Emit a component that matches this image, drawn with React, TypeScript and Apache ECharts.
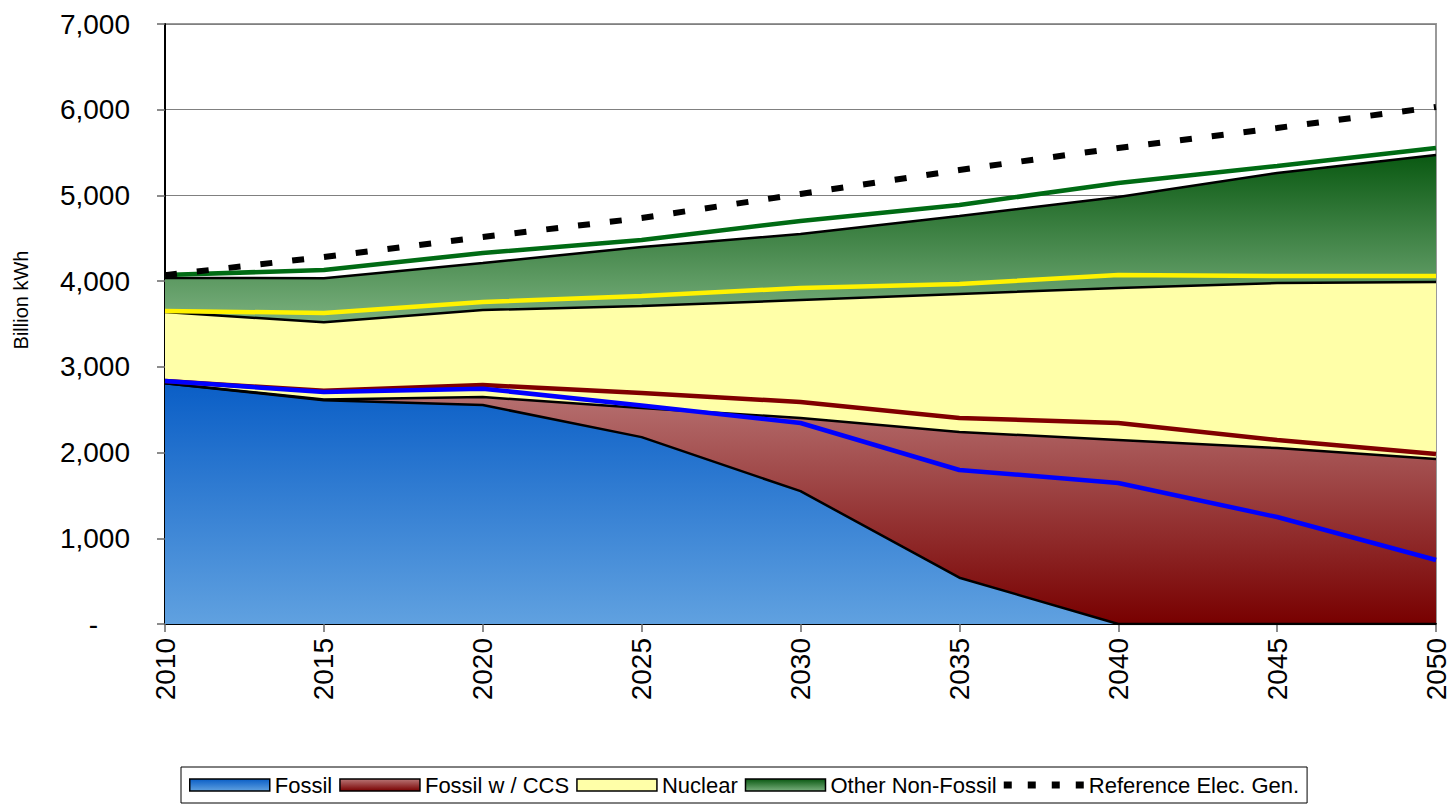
import React, { useEffect, useRef } from "react";
import * as echarts from "echarts";

const years = ["2010", "2015", "2020", "2025", "2030", "2035", "2040", "2045", "2050"];
// stacked generation (Billion kWh)
const fossil = [2810, 2610, 2555, 2180, 1550, 540, 0, 0, 0];
const fossilCCS = [0, 10, 93, 340, 853, 1700, 2147, 2053, 1925];
const nuclear = [830, 900, 1015, 1190, 1377, 1610, 1773, 1925, 2065];
const otherNonFossil = [397, 514, 549, 688, 770, 910, 1062, 1284, 1482];
// cumulative comparison lines
const lineFossil = [2835, 2707, 2745, 2550, 2345, 1797, 1645, 1248, 747];
const lineFossilCCS = [2835, 2720, 2788, 2695, 2590, 2403, 2345, 2147, 1983];
const lineNuclear = [3652, 3628, 3757, 3827, 3920, 3967, 4072, 4060, 4060];
const lineOther = [4072, 4130, 4329, 4480, 4702, 4889, 5145, 5343, 5553];
const referenceGen = [4070, 4282, 4515, 4737, 5017, 5297, 5554, 5787, 6032];

const yTicks = [0, 1000, 2000, 3000, 4000, 5000, 6000, 7000];
const yAxisTitle = "Billion kWh";

const grad = (top: string, bottom: string) =>
  new echarts.graphic.LinearGradient(0, 0, 0, 1, [
    { offset: 0, color: top },
    { offset: 1, color: bottom },
  ]);

export default function App() {
  const ref = useRef<HTMLDivElement>(null);
  useEffect(() => {
    document.body.style.margin = "0";
    const chart = echarts.init(ref.current!, null, { renderer: "svg" });
    const fossilFill = grad("#0A5EC6", "#60A1E0");
    const ccsFill = grad("#B97676", "#780000");
    const nucFill = "#FFFFA8";
    const otherFill = grad("#0A5912", "#7AB07E");
    const font = "Liberation Sans, Arial, sans-serif";

    const area = (name: string, data: number[], fill: any) => ({
      name,
      type: "line",
      stack: "total",
      data,
      symbol: "none",
      itemStyle: { color: fill },
      lineStyle: { width: 0, color: "#000" },
      areaStyle: { color: fill, opacity: 1 },
      z: 2,
    });
    const border = (data: number[]) => ({
      name: "_b",
      type: "line",
      stack: "border",
      data,
      symbol: "none",
      lineStyle: { width: 2.5, color: "#000" },
      z: 3,
      silent: true,
    });
    const line = (name: string, data: number[], color: string, z: number) => ({
      name,
      type: "line",
      data,
      symbol: "none",
      lineStyle: { width: 4.5, color },
      itemStyle: { color },
      z,
    });

    chart.setOption({
      animation: false,
      grid: {
        left: 165,
        right: 13,
        top: 24,
        bottom: 184,
        show: true,
        borderColor: "#999",
        borderWidth: 2,
        backgroundColor: "transparent",
      },
      graphic: [
        {
          type: "text",
          x: 21,
          y: 300,
          rotation: Math.PI / 2,
          style: {
            text: yAxisTitle,
            fontSize: 20,
            fontFamily: font,
            fill: "#000",
            textAlign: "center",
            textVerticalAlign: "middle",
          },
        },
      ],
      legend: {
        left: 181,
        top: 767,
        width: 1140,
        padding: [7, 8, 7, 8],
        itemWidth: 80,
        itemHeight: 12,
        itemGap: 7,
        borderColor: "#000",
        borderWidth: 1,
        textStyle: { fontSize: 22, color: "#000", fontFamily: font },
        data: [
          { name: "Fossil", icon: "rect", itemStyle: { color: fossilFill, borderColor: "#000", borderWidth: 1.5 } },
          { name: "Fossil w / CCS", icon: "rect", itemStyle: { color: ccsFill, borderColor: "#000", borderWidth: 1.5 } },
          { name: "Nuclear", icon: "rect", itemStyle: { color: nucFill, borderColor: "#000", borderWidth: 1.5 } },
          { name: "Other Non-Fossil", icon: "rect", itemStyle: { color: otherFill, borderColor: "#000", borderWidth: 1.5 } },
          {
            name: "Reference Elec. Gen.",
            icon: "path://M0,0h8v7h-8z M24,0h8v7h-8z M48,0h8v7h-8z M72,0h8v7h-8z",
            itemStyle: { color: "#000", borderWidth: 0 },
          },
        ],
      },
      xAxis: {
        type: "category",
        data: years,
        boundaryGap: false,
        axisLine: { lineStyle: { color: "#000", width: 2 } },
        axisTick: { show: true, length: 8, lineStyle: { color: "#666", width: 1.5 } },
        axisLabel: { rotate: 90, fontSize: 28, color: "#000", margin: 14, fontFamily: font },
        splitLine: { show: false },
      },
      yAxis: {
        type: "value",
        min: yTicks[0],
        max: yTicks[yTicks.length - 1],
        interval: 1000,
        axisLine: { show: true, lineStyle: { color: "#000", width: 2 } },
        axisTick: { show: true, length: 8, lineStyle: { color: "#666", width: 1.5 } },
        axisLabel: {
          fontSize: 28,
          color: "#000",
          margin: 35,
          fontFamily: font,
          formatter: (v: number) => (v === 0 ? "{d|-}" : v.toLocaleString("en-US")),
          rich: { d: { fontSize: 28, color: "#000", padding: [0, 32, 0, 0], fontFamily: font } },
        },
        splitLine: { show: true, lineStyle: { color: "#808080", width: 1.2 } },
      },
      series: [
        area("Fossil", fossil, fossilFill),
        area("Fossil w / CCS", fossilCCS, ccsFill),
        area("Nuclear", nuclear, nucFill),
        area("Other Non-Fossil", otherNonFossil, otherFill),
        border(fossil),
        border(fossilCCS),
        border(nuclear),
        border(otherNonFossil),
        line("_red", lineFossilCCS, "#800000", 4),
        line("_blue", lineFossil, "#0000FF", 5),
        line("_yellow", lineNuclear, "#FFF200", 6),
        line("_green", lineOther, "#006B14", 7),
        {
          name: "Reference Elec. Gen.",
          type: "line",
          data: referenceGen,
          symbol: "none",
          itemStyle: { color: "#000" },
          lineStyle: { width: 6, color: "#000", type: [12, 20] },
          z: 8,
        },
      ],
    });
    return () => chart.dispose();
  }, []);
  return <div ref={ref} style={{ width: 1450, height: 808 }} />;
}
